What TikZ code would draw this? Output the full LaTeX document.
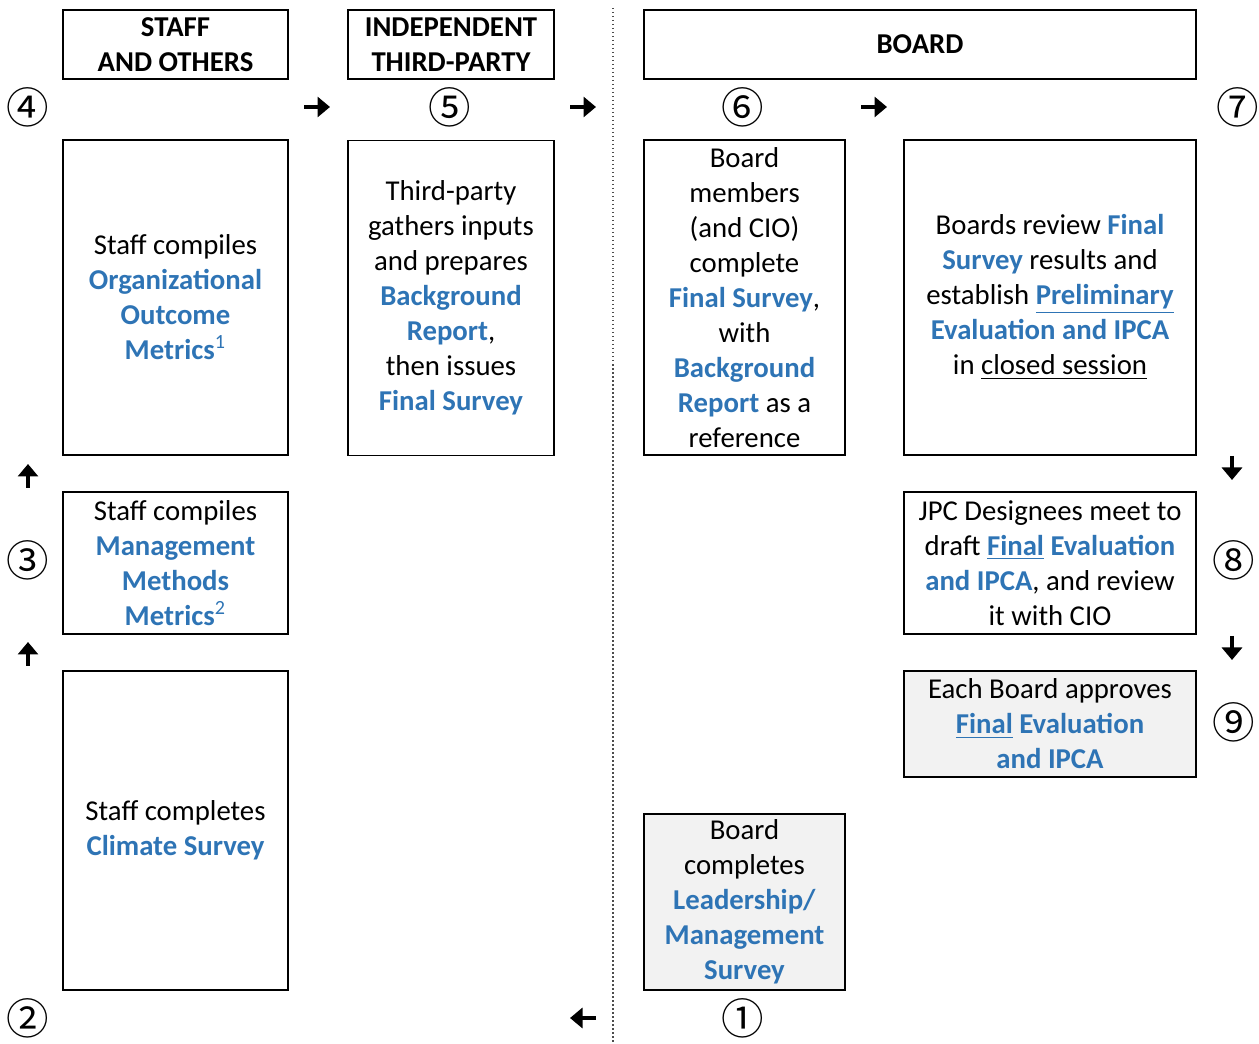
\documentclass[tikz,border=0pt]{standalone}
\usepackage{fontspec}
\setmainfont{Carlito}
\newfontfamily\numfont{Noto Sans CJK JP}
\usepackage{xcolor}
\usetikzlibrary{positioning, arrows.meta}
\definecolor{termblue}{RGB}{46,116,181}
\definecolor{boxgray}{RGB}{242,242,242}
\newcommand{\term}[1]{\textcolor{termblue}{\textbf{#1}}}
\newcommand{\fnmark}[1]{\textcolor{termblue}{\textsuperscript{#1}}}

\begin{document}
\begin{tikzpicture}[x=0.4pt, y=-0.4pt,
                        every node/.style={font=\fontsize{11.5}{14}\selectfont},
                        box/.style={draw, line width=0.6pt, align=center, inner sep=0pt},
                        head/.style={box, font=\fontsize{11.5}{14}\selectfont\bfseries, minimum height=27.6pt},
                        num/.style={font=\numfont\fontsize{17}{17}\selectfont, inner sep=0pt},
                        pointer/.style={line width=1.7pt, -{Triangle[length=5pt, width=8pt]}}]
                        \useasboundingbox (0, 0) rectangle (1259, 1044);

                        \node[head, minimum width=90pt] (hstaff) at (175.5, 44.5) {STAFF\\AND OTHERS};
                        \node[head, minimum width=82.4pt] (hthird) at (451, 44.5) {INDEPENDENT\\THIRD-PARTY};
                        \node[head, minimum width=220.8pt] (hboard) at (920, 44.5) {BOARD};

                        \node[box, minimum width=90pt, minimum height=126pt] (org) at (175.5, 297.5)
                            {Staff compiles\\\term{Organizational}\\\term{Outcome}\\\term{Metrics}\fnmark{1}};
                        \node[box, minimum width=82.4pt, minimum height=126pt] (gather) at (451, 298)
                            {Third-party\\gathers inputs\\and prepares\\\term{Background}\\\term{Report},\\then issues\\\term{Final Survey}};
                        \node[box, minimum width=80.4pt, minimum height=126pt] (members) at (744.5, 297.5)
                            {Board\\members\\(and CIO)\\complete\\\term{Final Survey},\\with\\\term{Background}\\\term{Report} as a\\reference};
                        \node[box, minimum width=116.8pt, minimum height=126pt] (review) at (1050, 297.5)
                            {Boards review \term{Final}\\\term{Survey} results and\\establish \term{\underline{Preliminary}}\\\term{Evaluation and IPCA}\\in \underline{closed session}};

                        \node[box, minimum width=90pt, minimum height=56.8pt] (mgmt) at (175.5, 563)
                            {Staff compiles\\\term{Management}\\\term{Methods}\\\term{Metrics}\fnmark{2}};
                        \node[box, minimum width=90pt, minimum height=127.6pt] (climate) at (175.5, 830.5)
                            {Staff completes\\\term{Climate Survey}};
                        \node[box, minimum width=116.8pt, minimum height=56.8pt] (jpc) at (1050, 563)
                            {JPC Designees meet to\\draft \term{\underline{Final} Evaluation}\\\term{and IPCA}, and review\\it with CIO};
                        \node[box, fill=boxgray, minimum width=116.8pt, minimum height=42.4pt] (approve) at (1050, 724)
                            {Each Board approves\\\term{\underline{Final} Evaluation}\\\term{and IPCA}};
                        \node[box, fill=boxgray, minimum width=80.4pt, minimum height=70.4pt] (leader) at (744.5, 902)
                            {Board\\completes\\\term{Leadership/}\\\term{Management}\\\term{Survey}};

                        \node[num] (s1) at (743, 1018) {①};
                        \node[num] (s2) at (28, 1018) {②};
                        \node[num] (s3) at (28, 560) {③};
                        \node[num] (s4) at (28, 107) {④};
                        \node[num] (s5) at (450, 107) {⑤};
                        \node[num] (s6) at (743, 107) {⑥};
                        \node[num] (s7) at (1238, 107) {⑦};
                        \node[num] (s8) at (1234, 560) {⑧};
                        \node[num] (s9) at (1234, 722) {⑨};

                        \coordinate (a1t) at (596, 1018);  \coordinate (a1h) at (570, 1018);
                        \coordinate (a2t) at (28, 666);    \coordinate (a2h) at (28, 642);
                        \coordinate (a3t) at (28, 488);    \coordinate (a3h) at (28, 464);
                        \coordinate (a4t) at (304, 107);   \coordinate (a4h) at (330, 107);
                        \coordinate (a5t) at (570, 107);   \coordinate (a5h) at (596, 107);
                        \coordinate (a6t) at (861, 107);   \coordinate (a6h) at (887, 107);
                        \coordinate (a7t) at (1232, 456);  \coordinate (a7h) at (1232, 480);
                        \coordinate (a8t) at (1232, 636);  \coordinate (a8h) at (1232, 660);
                        \draw[pointer] (a1t) -- (a1h);
                        \draw[pointer] (a2t) -- (a2h);
                        \draw[pointer] (a3t) -- (a3h);
                        \draw[pointer] (a4t) -- (a4h);
                        \draw[pointer] (a5t) -- (a5h);
                        \draw[pointer] (a6t) -- (a6h);
                        \draw[pointer] (a7t) -- (a7h);
                        \draw[pointer] (a8t) -- (a8h);

                        \coordinate (divtop) at (613, 8);
                        \coordinate (divbot) at (613, 1044);
                        \draw[densely dotted, line width=0.6pt, black!70] (divtop) -- (divbot);
                    \end{tikzpicture}
\end{document}
